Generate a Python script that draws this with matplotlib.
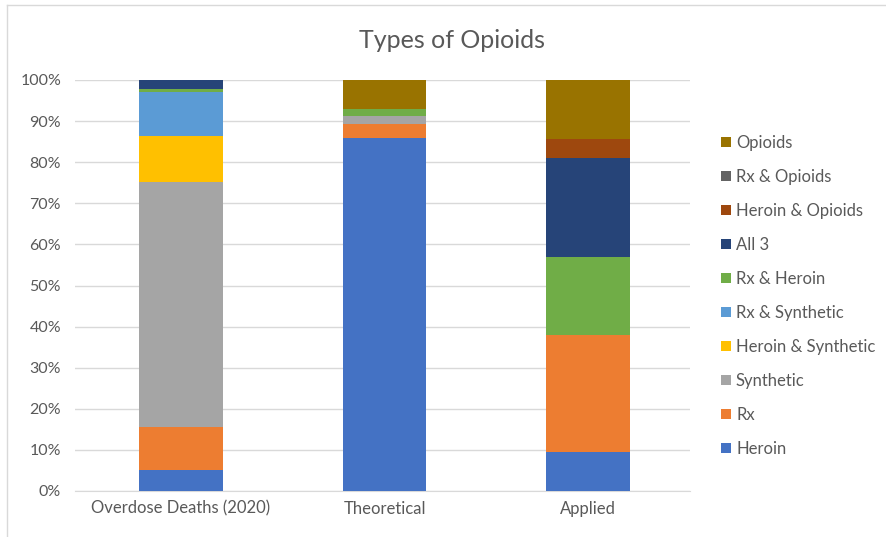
import matplotlib
matplotlib.use('Agg')
import matplotlib.pyplot as plt
import matplotlib.lines as mlines
import numpy as np
from matplotlib.ticker import PercentFormatter

plt.rcParams['font.family'] = ['Lato', 'DejaVu Sans']

# categories on the x axis
categories = ['Overdose Deaths (2020)', 'Theoretical', 'Applied']

# series (bottom to top), values in percent
series = ['Heroin', 'Rx', 'Synthetic', 'Heroin & Synthetic', 'Rx & Synthetic',
          'Rx & Heroin', 'All 3', 'Heroin & Opioids', 'Rx & Opioids', 'Opioids']
heroin = [5.1, 85.9, 9.6]
rx = [10.5, 3.3, 28.4]
synthetic = [59.6, 2.0, 0.0]
heroin_synthetic = [11.2, 0.0, 0.0]
rx_synthetic = [10.8, 0.0, 0.0]
rx_heroin = [0.7, 1.7, 18.9]
all3 = [2.1, 0.0, 24.1]
heroin_opioids = [0.0, 0.0, 4.6]
rx_opioids = [0.0, 0.0, 0.0]
opioids = [0.0, 7.1, 14.4]

values = [heroin, rx, synthetic, heroin_synthetic, rx_synthetic,
          rx_heroin, all3, heroin_opioids, rx_opioids, opioids]
colors = ['#4472C4', '#ED7D31', '#A5A5A5', '#FFC000', '#5B9BD5',
          '#70AD47', '#264478', '#9E480E', '#636363', '#997300']

fig = plt.figure(figsize=(8.86, 5.37), dpi=100)
ax = fig.add_axes([75 / 886, 1 - 491 / 537, (690 - 75) / 886, (491 - 80) / 537])

x = np.arange(len(categories))
bottom = np.zeros(len(categories))
for name, vals, col in zip(series, values, colors):
    v = np.array(vals)
    ax.bar(x, v, 0.41, bottom=bottom, color=col, label=name, zorder=3)
    bottom += v

ax.set_ylim(0, 100)
ax.set_xlim(-0.52, 2.5)
ax.set_yticks(np.arange(0, 101, 10))
ax.yaxis.set_major_formatter(PercentFormatter(decimals=0))
ax.set_xticks(x)
ax.set_xticklabels(categories)
ax.tick_params(axis='both', length=0, colors='#595959')
ax.tick_params(axis='y', pad=10, labelsize=11.5)
ax.tick_params(axis='x', pad=7, labelsize=12)
ax.grid(axis='y', color='#D9D9D9', linewidth=1, zorder=0)
for s in ['top', 'right', 'left']:
    ax.spines[s].set_visible(False)
ax.spines['bottom'].set_color('#D9D9D9')

fig.text(452 / 886, 1 - 40 / 537, 'Types of Opioids', ha='center', va='center',
         fontsize=18, color='#595959')

handles, labels = ax.get_legend_handles_labels()
leg = fig.legend(handles[::-1], labels[::-1], loc='center left',
                 bbox_to_anchor=(706 / 886, 1 - 296 / 537), frameon=False,
                 fontsize=12, labelcolor='#595959', handlelength=0.6,
                 handleheight=0.6, handletextpad=0.3, labelspacing=1.08)

# chart area border (left and top)
fig.add_artist(mlines.Line2D([7 / 886, 7 / 886], [0, 1 - 5 / 537],
                             transform=fig.transFigure, color='#D9D9D9', lw=1))
fig.add_artist(mlines.Line2D([7 / 886, 1], [1 - 5 / 537, 1 - 5 / 537],
                             transform=fig.transFigure, color='#D9D9D9', lw=1))

fig.savefig('out.png', dpi=100)
